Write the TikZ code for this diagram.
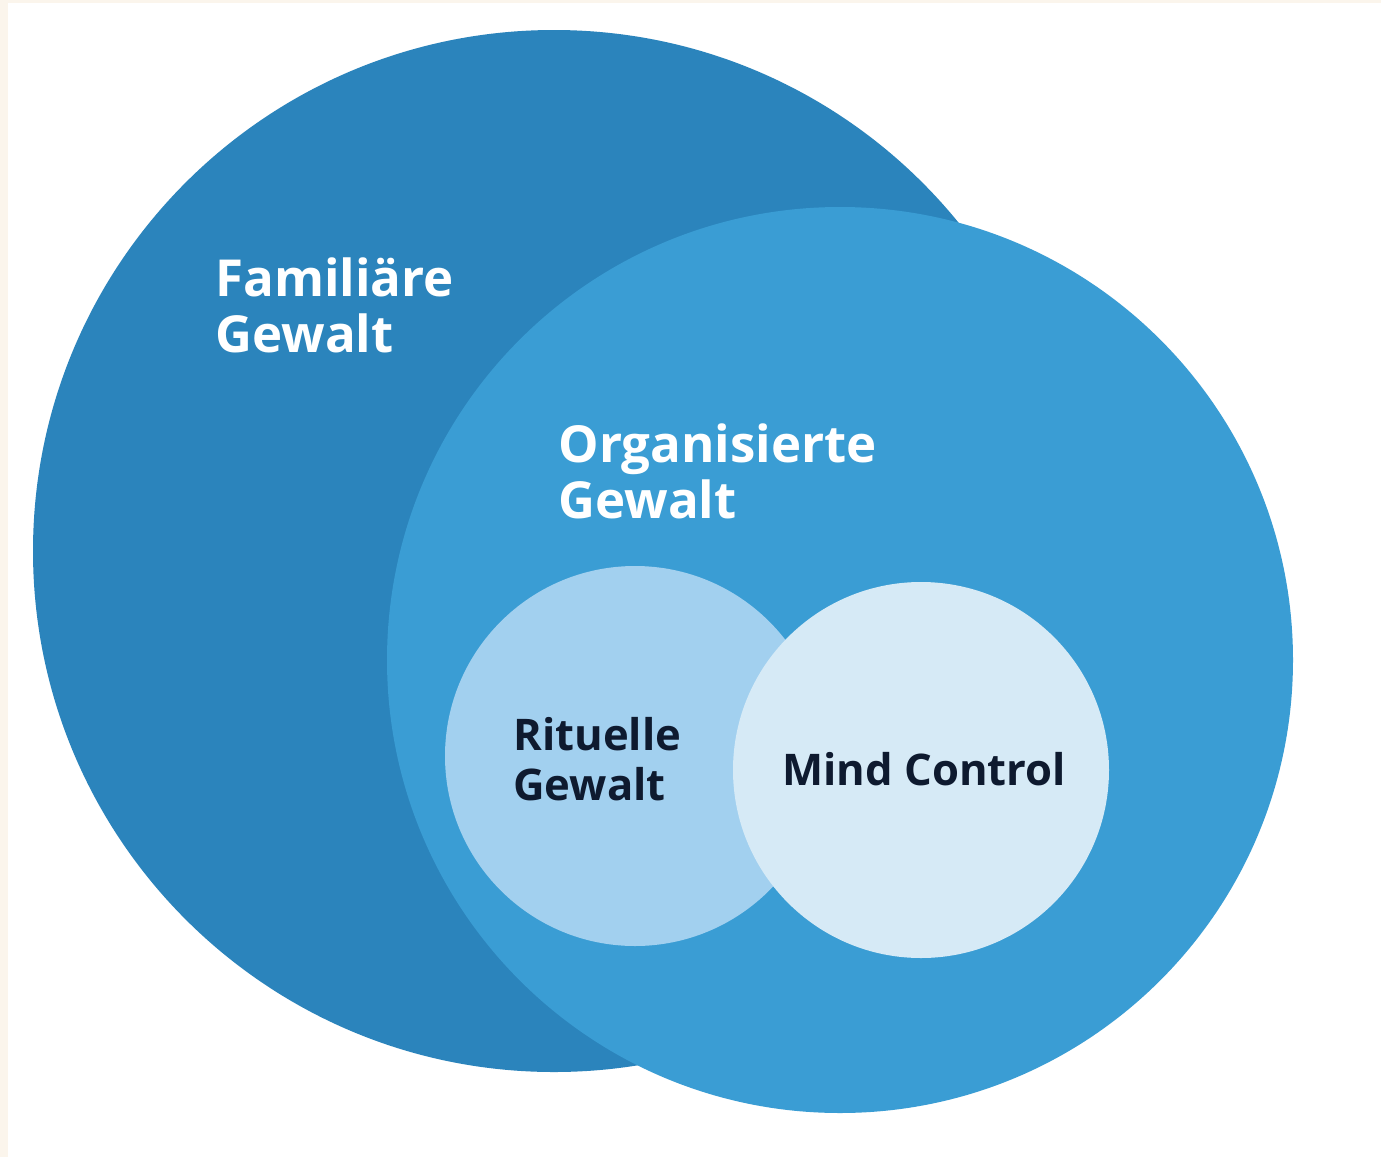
\documentclass[tikz,border=0pt]{standalone}
\usepackage{fontspec}
\setmainfont{Open Sans}
\definecolor{cream}{HTML}{FBF5EC}
\definecolor{famblue}{HTML}{2B84BC}
\definecolor{orgblue}{HTML}{3A9DD4}
\definecolor{ritblue}{HTML}{A2D0EF}
\definecolor{mindblue}{HTML}{D6EAF6}
\definecolor{navy}{HTML}{0E1A2F}
\begin{document}
\begin{tikzpicture}[x=0.5pt,y=-0.5pt,
  disc/.style={circle, inner sep=0pt, draw=none},
  biglabel/.style={inner sep=0pt, align=left, text=white, anchor=base west,
    font={\fontsize{25.5}{28}\selectfont\bfseries}},
  smalllabel/.style={inner sep=0pt, align=left, text=navy, anchor=base west,
    font={\fontsize{21.8}{25}\selectfont\bfseries}}]
  \useasboundingbox (0,0) rectangle (1381,1157);
  \fill[white] (0,0) rectangle (1381,1157);
  \fill[cream] (0,0) rectangle (1381,3);
  \fill[cream] (0,0) rectangle (8,1157);
  \node[disc, fill=famblue, minimum size=521pt] (fam) at (554,551) {};
  \node[disc, fill=orgblue, minimum size=453pt] (org) at (840,660) {};
  \node[disc, fill=ritblue, minimum size=190pt] (rit) at (635,756) {};
  \node[disc, fill=mindblue, minimum size=188pt] (mind) at (921,770) {};
  % anchor: baseline of the last line
  \node[biglabel] (famtext) at (215,352) {Familiäre\\Gewalt};
  \node[biglabel] (orgtext) at (558,518) {Organisierte\\Gewalt};
  \node[smalllabel] (rittext) at (513,800) {Rituelle\\Gewalt};
  \node[smalllabel] (mindtext) at (782,785) {Mind Control};
\end{tikzpicture}
\end{document}
